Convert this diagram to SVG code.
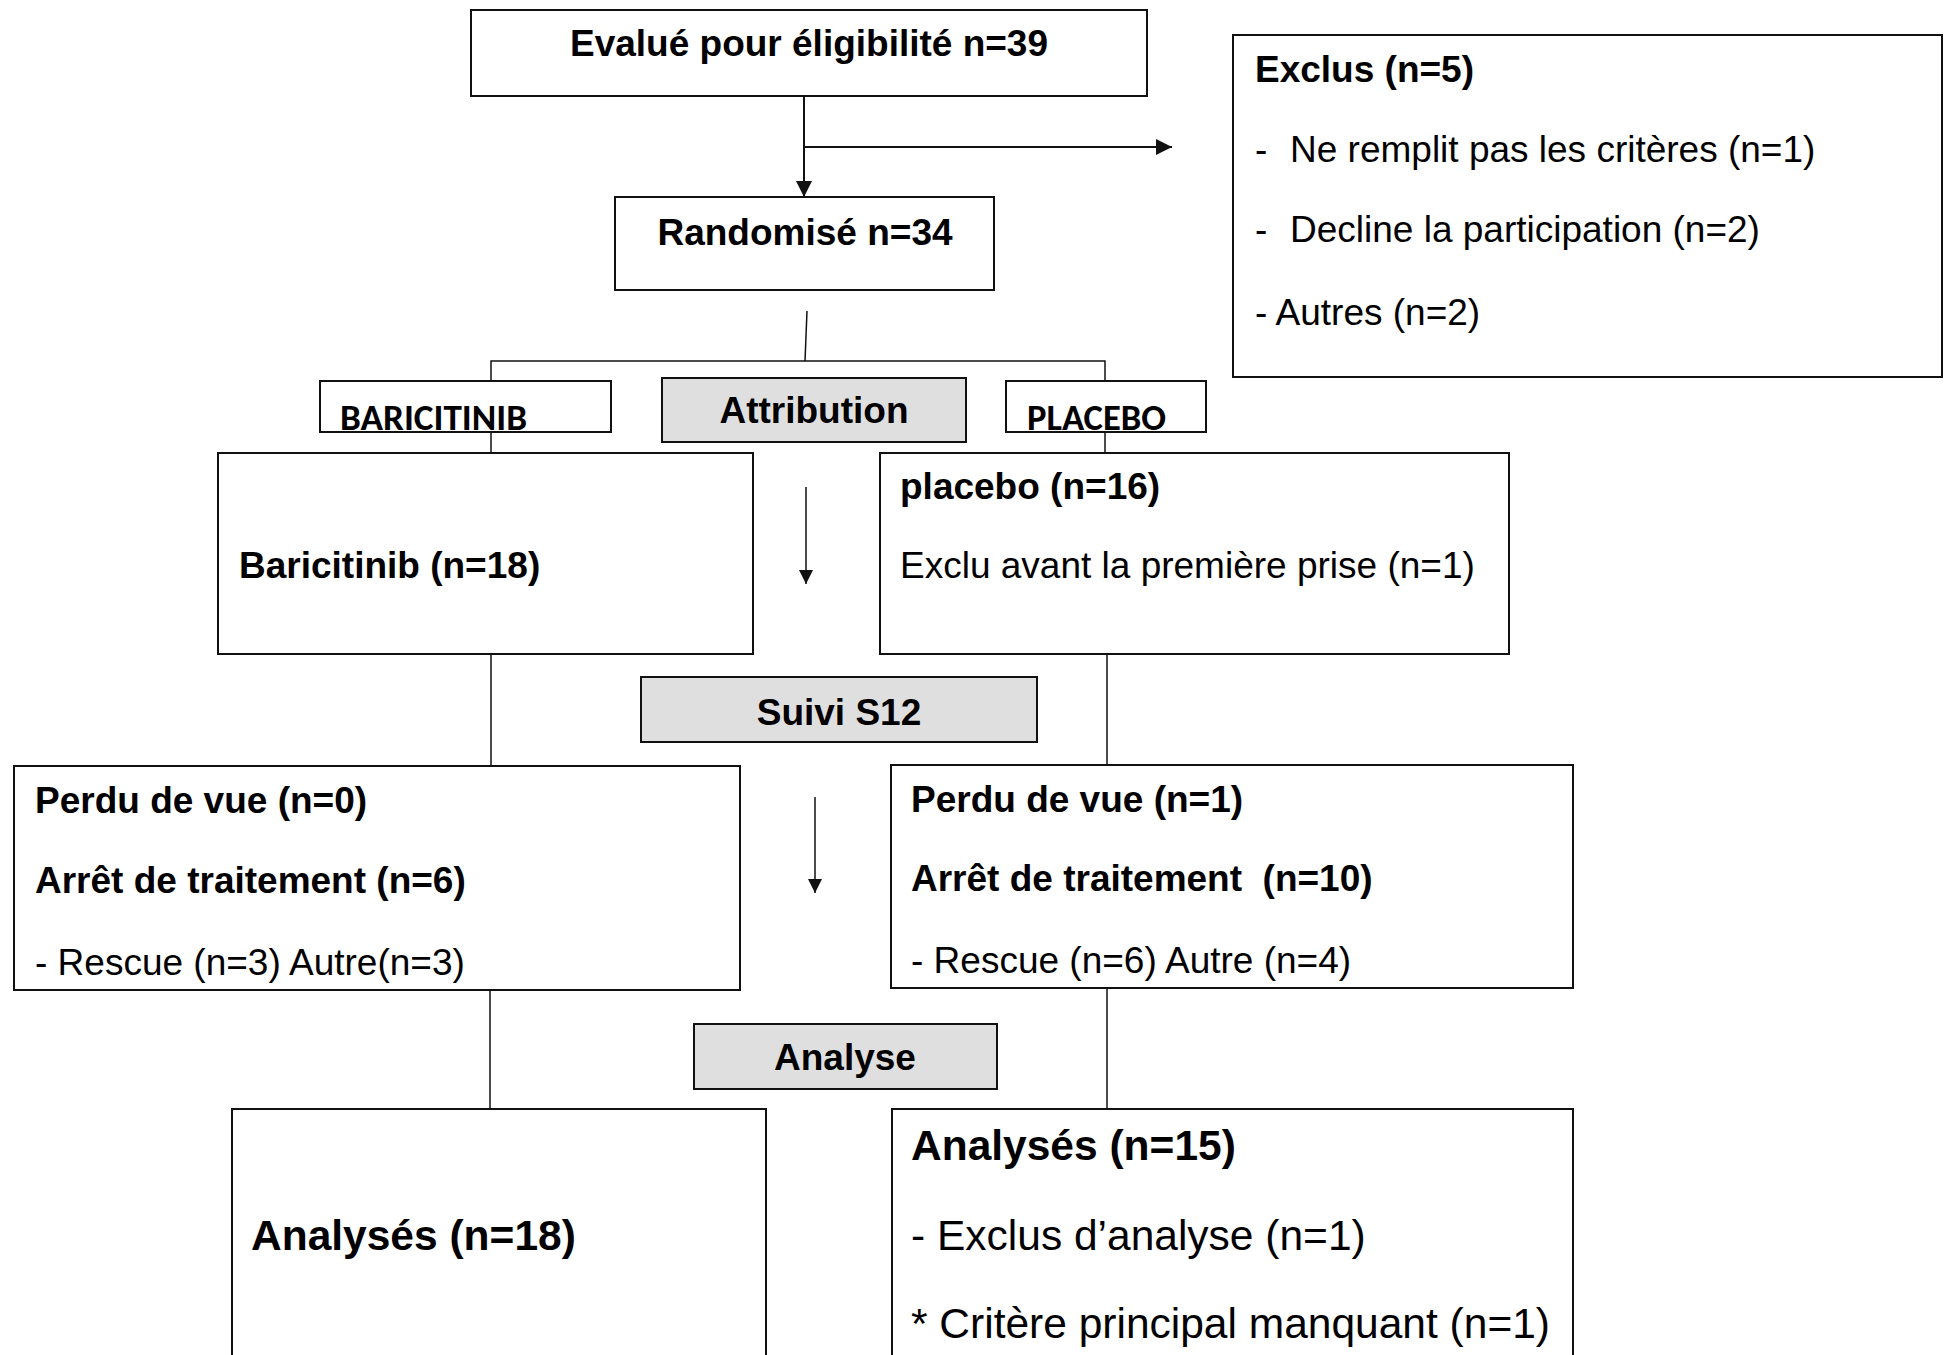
<svg xmlns="http://www.w3.org/2000/svg" width="1945" height="1355" viewBox="0 0 1945 1355">
<style>
.box{fill:#ffffff;stroke:#111111;stroke-width:2}
.gray{fill:#dfdfdf;stroke:#111111;stroke-width:2}
.t{font-family:"Liberation Sans",Arial,sans-serif;font-size:37px;fill:#000000}
.b{font-weight:bold}
.big{font-size:42.5px}
.cal{font-family:Carlito,Lato,"Open Sans",sans-serif;font-weight:bold;font-size:36px;fill:#000000}
.mid{text-anchor:middle}
.c{fill:none;stroke:#111111;stroke-width:1.5}
.ca{fill:none;stroke:#111111;stroke-width:2}
</style>
<defs>
<marker id="arrL" viewBox="0 0 16 16" refX="16" refY="8" markerWidth="16" markerHeight="16" markerUnits="userSpaceOnUse" orient="auto">
<path d="M0,0 L16,8 L0,16 z" fill="#111111"/>
</marker>
<marker id="arrS" viewBox="0 0 14 14" refX="14" refY="7" markerWidth="14" markerHeight="14" markerUnits="userSpaceOnUse" orient="auto">
<path d="M0,0 L14,7 L0,14 z" fill="#111111"/>
</marker>
</defs>
<rect width="1945" height="1355" fill="#ffffff"/>

<g id="connectors">
<line class="ca" x1="804" y1="96" x2="804" y2="197" marker-end="url(#arrL)"/>
<line class="ca" x1="804" y1="147" x2="1172" y2="147" marker-end="url(#arrL)"/>
<line class="c" x1="807" y1="311" x2="805" y2="361"/>
<polyline class="c" points="491,381 491,361 1105,361 1105,381"/>
<line class="c" x1="491" y1="432" x2="491" y2="453"/>
<line class="c" x1="1105" y1="432" x2="1105" y2="453"/>
<line class="c" x1="806" y1="487" x2="806" y2="584" marker-end="url(#arrS)"/>
<line class="c" x1="491" y1="654" x2="491" y2="766"/>
<line class="c" x1="1107" y1="654" x2="1107" y2="765"/>
<line class="c" x1="815" y1="797" x2="815" y2="893" marker-end="url(#arrS)"/>
<line class="c" x1="490" y1="990" x2="490" y2="1109"/>
<line class="c" x1="1107" y1="988" x2="1107" y2="1109"/>
</g>

<g id="evalue">
<rect class="box" x="471" y="10" width="676" height="86"/>
<text class="t b mid" x="809" y="56">Evalué pour éligibilité n=39</text>
</g>

<g id="exclus">
<rect class="box" x="1233" y="35" width="709" height="342"/>
<text class="t b" x="1255" y="82">Exclus (n=5)</text>
<text class="t" x="1255" y="162">-</text>
<text class="t" x="1290" y="162">Ne remplit pas les critères (n=1)</text>
<text class="t" x="1255" y="242">-</text>
<text class="t" x="1290" y="242">Decline la participation (n=2)</text>
<text class="t" x="1255" y="325">- Autres (n=2)</text>
</g>

<g id="randomise">
<rect class="box" x="615" y="197" width="379" height="93"/>
<text class="t b mid" x="805" y="245">Randomisé n=34</text>
</g>

<g id="baricitinib-label">
<rect class="box" x="320" y="381" width="291" height="51"/>
<text class="cal" x="340" y="430" textLength="187" lengthAdjust="spacingAndGlyphs">BARICITINIB</text>
</g>

<g id="attribution">
<rect class="gray" x="662" y="378" width="304" height="64"/>
<text class="t b mid" x="814" y="423">Attribution</text>
</g>

<g id="placebo-label">
<rect class="box" x="1006" y="381" width="200" height="51"/>
<text class="cal" x="1027" y="430" textLength="139" lengthAdjust="spacingAndGlyphs">PLACEBO</text>
</g>

<g id="baricitinib">
<rect class="box" x="218" y="453" width="535" height="201"/>
<text class="t b" x="239" y="578">Baricitinib (n=18)</text>
</g>

<g id="placebo">
<rect class="box" x="880" y="453" width="629" height="201"/>
<text class="t b" x="900" y="499">placebo (n=16)</text>
<text class="t" x="900" y="578">Exclu avant la première prise (n=1)</text>
</g>

<g id="suivi">
<rect class="gray" x="641" y="677" width="396" height="65"/>
<text class="t b mid" x="839" y="725">Suivi S12</text>
</g>

<g id="perdu-baricitinib">
<rect class="box" x="14" y="766" width="726" height="224"/>
<text class="t b" x="35" y="813">Perdu de vue (n=0)</text>
<text class="t b" x="35" y="893">Arrêt de traitement (n=6)</text>
<text class="t" x="35" y="975">- Rescue (n=3) Autre(n=3)</text>
</g>

<g id="perdu-placebo">
<rect class="box" x="891" y="765" width="682" height="223"/>
<text class="t b" x="911" y="812">Perdu de vue (n=1)</text>
<text class="t b" x="911" y="891" style="white-space:pre">Arrêt de traitement  (n=10)</text>
<text class="t" x="911" y="973">- Rescue (n=6) Autre (n=4)</text>
</g>

<g id="analyse">
<rect class="gray" x="694" y="1024" width="303" height="65"/>
<text class="t b mid" x="845" y="1070">Analyse</text>
</g>

<g id="analyses-baricitinib">
<rect class="box" x="232" y="1109" width="534" height="270"/>
<text class="t b big" x="251" y="1250">Analysés (n=18)</text>
</g>

<g id="analyses-placebo">
<rect class="box" x="892" y="1109" width="681" height="270"/>
<text class="t b big" x="911" y="1160">Analysés (n=15)</text>
<text class="t big" x="911" y="1250">- Exclus d’analyse (n=1)</text>
<text class="t big" x="911" y="1338">* Critère principal manquant (n=1)</text>
</g>
</svg>
